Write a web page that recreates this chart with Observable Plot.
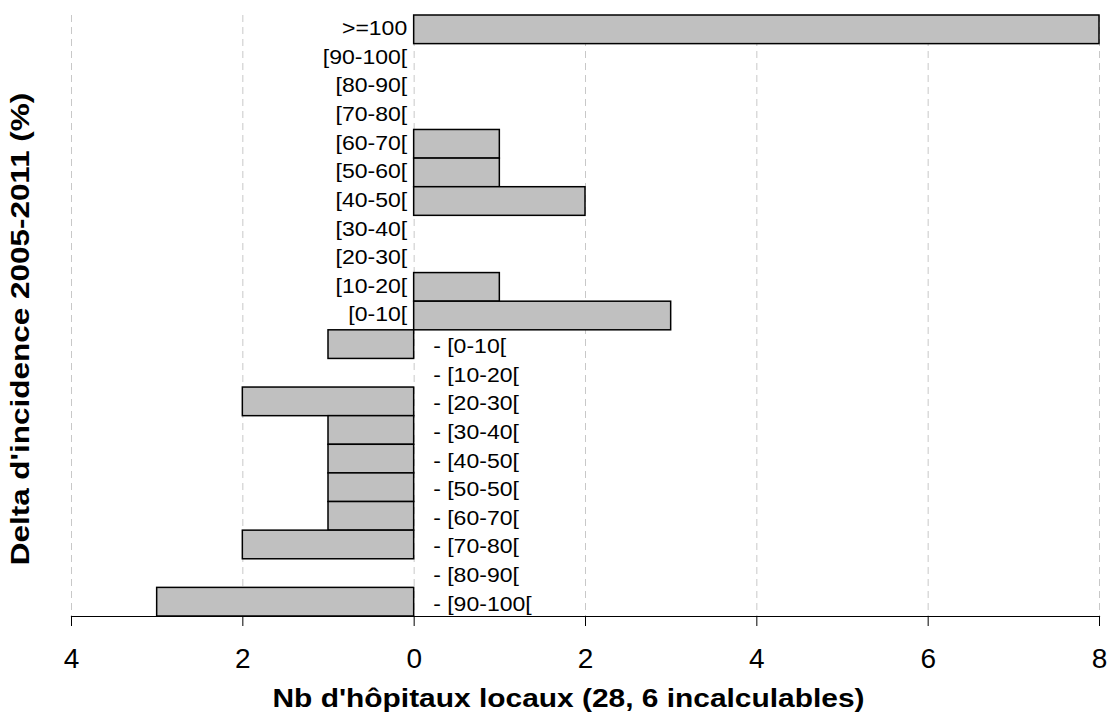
<!DOCTYPE html>
<html>
<head>
<meta charset="utf-8">
<script src="https://cdn.jsdelivr.net/npm/d3@7"></script>
<script src="https://cdn.jsdelivr.net/npm/@observablehq/plot@0.6"></script>
<style>
  html, body { margin: 0; padding: 0; background: #fff; }
  #chart svg { display: block; font-family: Arial, "Liberation Sans", sans-serif; }
</style>
</head>
<body>
<div id="chart"></div>
<script>
const categories = [">=100", "[90-100[", "[80-90[", "[70-80[", "[60-70[", "[50-60[", "[40-50[", "[30-40[", "[20-30[", "[10-20[", "[0-10[",
  "- [0-10[", "- [10-20[", "- [20-30[", "- [30-40[", "- [40-50[", "- [50-50[", "- [60-70[", "- [70-80[", "- [80-90[", "- [90-100["];
const counts = [8, 0, 0, 0, 1, 1, 2, 0, 0, 1, 3,
  -1, 0, -2, -1, -1, -1, -1, -2, 0, -3];
const xTicks = [-4, -2, 0, 2, 4, 6, 8];
const xTitle = "Nb d'hôpitaux locaux (28, 6 incalculables)";
const yTitle = "Delta d'incidence 2005-2011 (%)";

const data = categories.map((c, i) => ({cat: c, value: counts[i], neg: c.startsWith("-")}));

const chart = Plot.plot({
  width: 1111,
  height: 715,
  marginLeft: 71,
  marginRight: 12,
  marginTop: 15,
  marginBottom: 99,
  style: {fontFamily: "Arial, 'Liberation Sans', sans-serif", background: "#fff"},
  x: {domain: [-4, 8], label: null},
  y: {domain: categories, padding: 0, round: false, axis: null},
  marks: [
    Plot.gridX(xTicks, {stroke: "#c8c8c8", strokeOpacity: 1, strokeWidth: 1, strokeDasharray: "7,5"}),
    Plot.barX(data.filter(d => d.value !== 0), {x: "value", y: "cat", fill: "#c0c0c0", stroke: "#000", strokeWidth: 1.5, insetTop: 0, insetBottom: 0}),
    Plot.frame({anchor: "bottom", stroke: "#000", strokeWidth: 1.2}),
    Plot.axisX(xTicks, {tickSize: 10, tickPadding: 22, fontSize: 28, tickFormat: d => Math.abs(d), stroke: "#000", color: "#000"}),
    Plot.text(data.filter(d => !d.neg), {x: () => 0, y: "cat", text: "cat", textAnchor: "end", dx: -7, dy: -1, fontSize: 20, fill: "#000"}),
    Plot.text(data.filter(d => d.neg), {x: () => 0, y: "cat", text: "cat", textAnchor: "start", dx: 19, dy: 2, fontSize: 20, fill: "#000"}),
    Plot.text([xTitle], {frameAnchor: "bottom", text: d => d, dx: -17, dy: 82, fontSize: 26, fontWeight: "bold", textAnchor: "middle", lineAnchor: "middle", fill: "#000"}),
    Plot.text([yTitle], {frameAnchor: "left", text: d => d, dx: -51, dy: 13, rotate: -90, fontSize: 26, fontWeight: "bold", textAnchor: "middle", lineAnchor: "middle", fill: "#000"})
  ]
});
document.getElementById("chart").append(chart);

// the reference text is wider than Arial along its direction: stretch it
const catSet = new Set(categories);
chart.querySelectorAll("text").forEach(el => {
  const t = el.textContent;
  let k = 0;
  if (catSet.has(t)) k = 1.15;
  else if (t === xTitle) k = 1.15;
  else if (t === yTitle) k = 1.21;
  if (!k) return;
  const w = el.getComputedTextLength();
  if (w > 0) {
    el.setAttribute("textLength", (w * k).toFixed(1));
    el.setAttribute("lengthAdjust", "spacingAndGlyphs");
  }
});
</script>
</body>
</html>
